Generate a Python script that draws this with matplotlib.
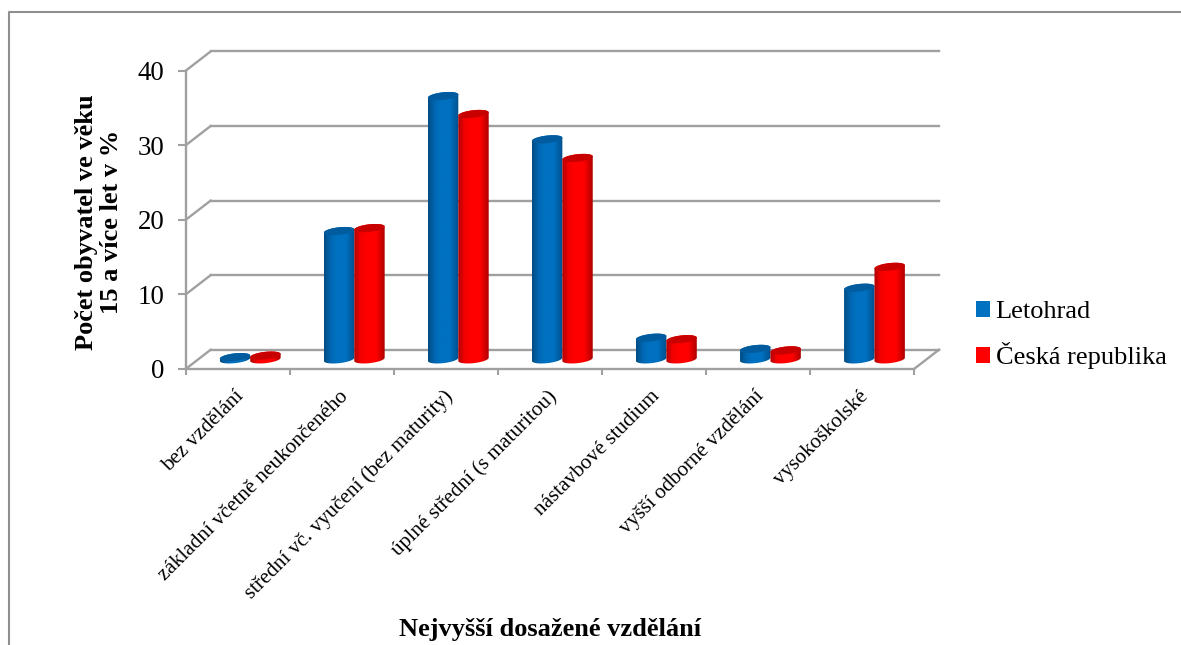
import numpy as np
import matplotlib
matplotlib.use("Agg")
import matplotlib.pyplot as plt
from matplotlib.colors import LinearSegmentedColormap
from matplotlib.lines import Line2D
from matplotlib.patches import Patch, Polygon
from matplotlib.transforms import ScaledTranslation

plt.rcParams["font.family"] = ["Liberation Serif", "DejaVu Serif"]

categories = [
    "bez vzdělání",
    "základní včetně neukončeného",
    "střední vč. vyučení (bez maturity)",
    "úplné střední (s maturitou)",
    "nástavbové studium",
    "vyšší odborné vzdělání",
    "vysokoškolské",
]
letohrad = [0.3, 17.2, 35.3, 29.5, 2.9, 1.4, 9.6]
cr = [0.5, 17.6, 32.9, 27.0, 2.7, 1.2, 12.4]
series_names = ["Letohrad", "Česká republika"]
y_ticks = [0, 10, 20, 30, 40]

W, H = 1181, 645
GREY = "#a0a0a0"

# front plane of the fake 3D box, in pixels of the reference
left, right, top, bottom = 185.7, 914.0, 70.7, 369.0

fig = plt.figure(figsize=(W / 100, H / 100), dpi=100)
ax = fig.add_axes([left / W, 1 - bottom / H, (right - left) / W, (bottom - top) / H])
ax.set_xlim(0, len(categories))
ax.set_ylim(0, 40)
ax.autoscale(False)

px_x = len(categories) / (right - left)
px_y = 40 / (bottom - top)
depth_x = 25 * px_x
depth_y = 19.3 * px_y

# frame of the chart area, cut off at the right and bottom of the picture
fig.add_artist(Line2D([9.5 / W, 9.5 / W, 1], [0, 1 - 12 / H, 1 - 12 / H], color="#8f8f8f", lw=1.5))

# back wall and floor
for t in y_ticks:
    ax.plot([0, depth_x], [t, t + depth_y], color=GREY, lw=1.7, clip_on=False, zorder=1)
    ax.plot([depth_x, len(categories) + depth_x], [t + depth_y, t + depth_y],
            color=GREY, lw=1.7, clip_on=False, zorder=1)
ax.plot([len(categories), len(categories) + depth_x], [0, depth_y], color=GREY, lw=1.7, clip_on=False, zorder=1)

for side in ["top", "right"]:
    ax.spines[side].set_visible(False)
for side in ["left", "bottom"]:
    ax.spines[side].set_color(GREY)
    ax.spines[side].set_linewidth(1.7)

ax.patch.set_visible(False)
ax.set_yticks(y_ticks)
ax.tick_params(axis="y", length=6, width=1.5, color=GREY, labelsize=19.4, pad=9.5)
ax.set_xticks(np.arange(len(categories) + 1))
ax.set_xticklabels([])
ax.tick_params(axis="x", which="major", length=4, width=1.5, color=GREY)
ax.set_xticks(np.arange(len(categories)) + 0.5, minor=True)
ax.set_xticklabels(categories, minor=True, rotation=45, ha="right", va="top",
                   rotation_mode="anchor", fontsize=15.2)
ax.tick_params(axis="x", which="minor", length=0, pad=13)
# labels sit a little left of the category centre in the reference
shift = ScaledTranslation(-3 / 100, 0, fig.dpi_scale_trans)
for label in ax.get_xticklabels(minor=True):
    label.set_transform(label.get_transform() + shift)

blue_cmap = LinearSegmentedColormap.from_list(
    "b", [(0, "#004c84"), (0.22, "#0068b2"), (0.4, "#0070c0"), (0.72, "#0070c0"), (1, "#00508c")])
red_cmap = LinearSegmentedColormap.from_list(
    "r", [(0, "#ad0000"), (0.2, "#f20000"), (0.4, "#ff0000"), (0.72, "#ff0000"), (1, "#b00000")])

half_w = 15.2 * px_x
half_h = 3.8 * px_y
tilt = 1.6 * px_y  # rise of the ellipse from its centre to its right end
angle = np.linspace(0, 2 * np.pi, 80)


def ellipse(cx, cy, t):
    return cx + half_w * np.cos(t), cy + half_h * np.sin(t) + tilt * np.cos(t)


def cylinder(cx, value, cmap, cap_color):
    y0 = depth_y / 2
    y1 = y0 + value
    # bottom half of the base, then back across the top
    bx, by = ellipse(cx, y0, np.linspace(np.pi, 2 * np.pi, 40))
    tx, ty = ellipse(cx, y1, np.linspace(0, np.pi, 40))
    body = Polygon(np.column_stack([np.r_[bx, tx], np.r_[by, ty]]), closed=True,
                   facecolor="none", edgecolor="none", transform=ax.transData)
    ax.add_patch(body)
    im = ax.imshow(np.linspace(0, 1, 64).reshape(1, -1), cmap=cmap, aspect="auto",
                   extent=[cx - half_w, cx + half_w, by.min() - 1, ty.max() + 1], zorder=3,
                   interpolation="bilinear")
    im.set_clip_path(body)
    ex, ey = ellipse(cx, y1, angle)
    ax.fill(ex, ey, color=cap_color, zorder=3, lw=0)


for i in range(len(categories)):
    center = i + 0.5 + depth_x / 2
    cylinder(center - half_w, letohrad[i], blue_cmap, "#005c9e")
    cylinder(center + half_w, cr[i], red_cmap, "#c80000")

ax.set_xlim(0, len(categories))
ax.set_ylim(0, 40)

fig.text(99 / W, 1 - 222 / H, "Počet obyvatel ve věku\n15 a více let v %", rotation=90, ha="center", va="center",
         fontsize=19, fontweight="bold", linespacing=1.15)
fig.text(550 / W, 1 - 629.5 / H, "Nejvyšší dosažené vzdělání", ha="center", va="center",
         fontsize=19, fontweight="bold")

handles = [Patch(facecolor="#0070c0", edgecolor="none"), Patch(facecolor="#ff0000", edgecolor="none")]
fig.legend(handles, series_names, loc="upper left", bbox_to_anchor=(968 / W, 1 - 293 / H), frameon=False,
           fontsize=19, handlelength=0.55, handleheight=0.55, handletextpad=0.2, labelspacing=0.72,
           borderpad=0.3, borderaxespad=0)

fig.savefig("out.png", dpi=100, facecolor="white")
